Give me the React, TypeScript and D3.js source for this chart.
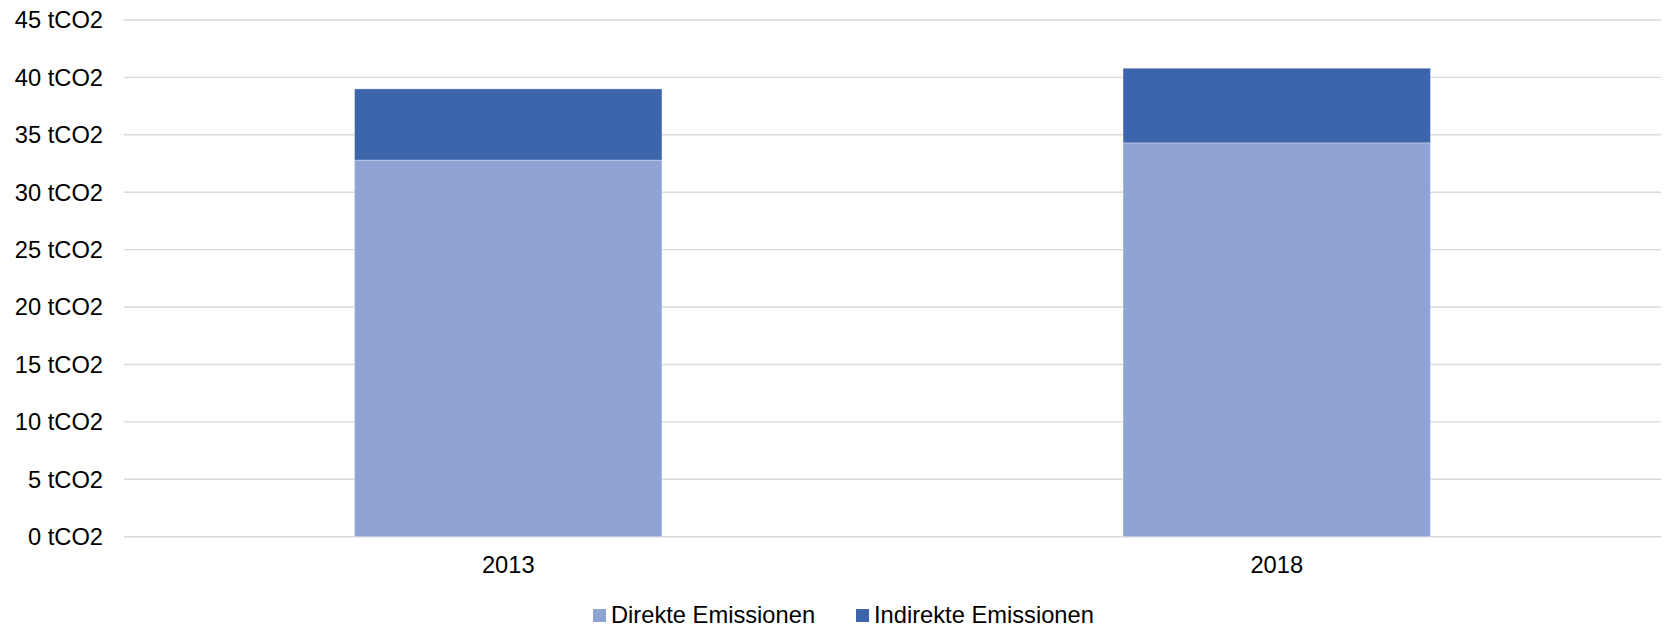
import React from 'react';
import * as d3 from 'd3';

const years = ['2013', '2018'];
const direkte = [32.8, 34.3];
const indirekte = [6.2, 6.5];
const yTicks = [0, 5, 10, 15, 20, 25, 30, 35, 40, 45];
const seriesNames = ['Direkte Emissionen', 'Indirekte Emissionen'];
const seriesColors = ['#90A4D4', '#3D65AC'];

const W = 1665;
const H = 628;
const font = '"Liberation Sans", Arial, sans-serif';
const fs = 23.7;

export default function App() {
    const x = d3.scaleBand<string>()
        .domain(years)
        .range([124, 1661])
        .paddingInner(0.6)
        .paddingOuter(0.3);

    const y = d3.scaleLinear()
        .domain([0, 45])
        .range([536.7, 20]);

    const stacked = d3.stack<any>()
        .keys(['direkte', 'indirekte'])(years.map((yr, i) => ({ year: yr, direkte: direkte[i], indirekte: indirekte[i] })));

    // legend layout (centred under the plot)
    const legendItems = [
        { x: 593, name: seriesNames[0], color: seriesColors[0] },
        { x: 856, name: seriesNames[1], color: seriesColors[1] },
    ];

    return (
        <div style={{ position: 'fixed', left: 0, top: 0 }}>
            <svg width={W} height={H} style={{ display: 'block', background: '#fff' }}>
                {/* gridlines */}
                {yTicks.map(t => (
                    <line key={'g' + t} x1={124} x2={1661} y1={y(t)} y2={y(t)}
                        stroke="#D9D9D9" strokeWidth={1.4} />
                ))}
                {/* y labels */}
                {yTicks.map(t => (
                    <text key={'l' + t} x={103} y={y(t)} dy="0.35em" textAnchor="end"
                        fontFamily={font} fontSize={fs} fill="#000">{`${t} tCO2`}</text>
                ))}
                {/* bars */}
                {stacked.map((s, si) => (
                    <g key={s.key}>
                        {s.map((d, i) => (
                            <rect key={i}
                                x={x(years[i])}
                                width={x.bandwidth()}
                                y={y(d[1])}
                                height={y(d[0]) - y(d[1])}
                                fill={seriesColors[si]}
                                stroke="#ffffff" strokeOpacity={0.4} strokeWidth={0.8} />
                        ))}
                    </g>
                ))}
                {/* x labels */}
                {years.map(yr => (
                    <text key={yr} x={(x(yr) as number) + x.bandwidth() / 2} y={572.5} textAnchor="middle"
                        fontFamily={font} fontSize={fs} fill="#000">{yr}</text>
                ))}
                {/* legend */}
                {legendItems.map(it => (
                    <g key={it.name}>
                        <rect x={it.x} y={609} width={13} height={13} fill={it.color} />
                        <text x={it.x + 18} y={622.5} fontFamily={font} fontSize={fs} fill="#000">{it.name}</text>
                    </g>
                ))}
            </svg>
        </div>
    );
}
